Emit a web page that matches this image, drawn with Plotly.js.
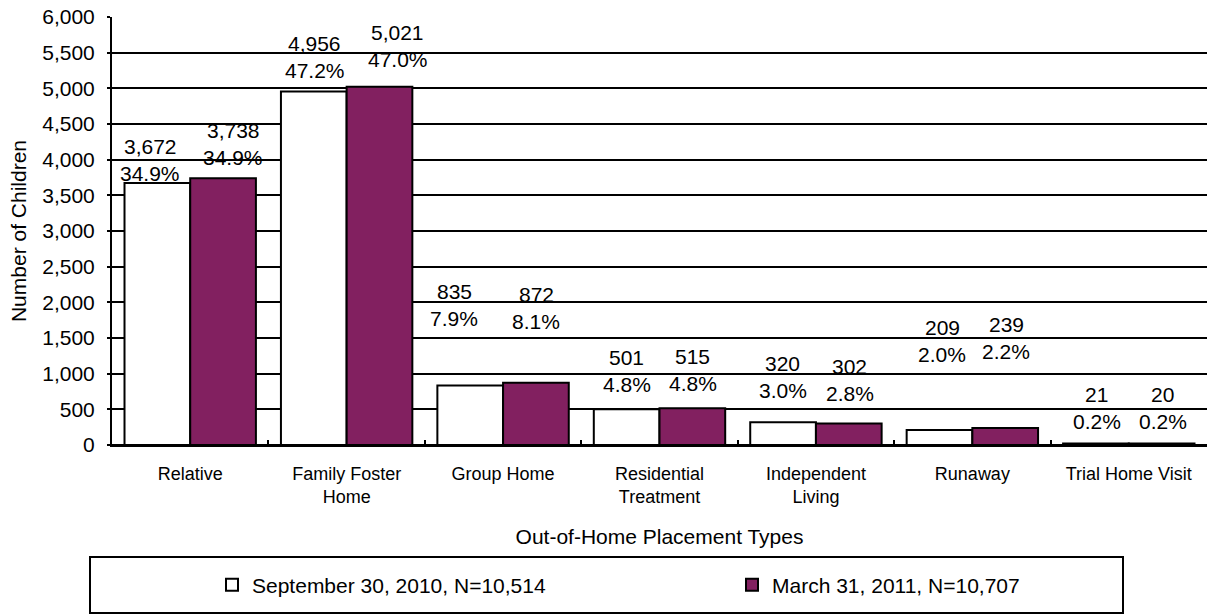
<!DOCTYPE html>
<html>
<head>
<meta charset="utf-8">
<script src="https://cdn.plot.ly/plotly-3.0.1.min.js"></script>
<style>
html,body{margin:0;padding:0;background:#fff;}
#chart{width:1207px;height:614px;}
</style>
</head>
<body>
<div id="chart"></div>
<script>
// ---- data ----
var categories = ["Relative", "Family Foster<br>Home", "Group Home", "Residential<br>Treatment", "Independent<br>Living", "Runaway", "Trial Home Visit"];
var sep2010 = [3672, 4956, 835, 501, 320, 209, 21];
var mar2011 = [3738, 5021, 872, 515, 302, 239, 20];
var sep2010Pct = ["34.9%", "47.2%", "7.9%", "4.8%", "3.0%", "2.0%", "0.2%"];
var mar2011Pct = ["34.9%", "47.0%", "8.1%", "4.8%", "2.8%", "2.2%", "0.2%"];
var seriesNames = ["September 30, 2010, N=10,514", "March 31, 2011, N=10,707"];
var yTickVals = [0, 500, 1000, 1500, 2000, 2500, 3000, 3500, 4000, 4500, 5000, 5500, 6000];

// ---- label placement (pixels, relative to bar top) ----
var sepLabelLift = [23, 34, 80, 38, 45, 89, 36];
var marLabelLift = [34, 41, 75, 38, 43, 90, 36];
var sepLabelNudge = [-7, 1, -16, 0, 0, 3, 1];
var marLabelNudge = [10, 18, 0, 0, 1, 1, 1];

var FONT = "Liberation Sans, Arial, sans-serif";
var PURPLE = "#822060";

function fmt(v){ return v.toLocaleString("en-US"); }

var traces = [
  {type:"bar", name:seriesNames[0], x:categories, y:sep2010, legend:"legend",
   marker:{color:"#ffffff", line:{color:"#000", width:2}}, hoverinfo:"none"},
  {type:"bar", name:seriesNames[1], x:categories, y:mar2011, legend:"legend2",
   marker:{color:PURPLE, line:{color:"#000", width:2}}, hoverinfo:"none"}
];

var annotations = [];
var barOffset = 33; // half bar width in px
function addLabels(vals, pcts, lift, nudge, side){
  for (var i=0;i<vals.length;i++){
    var base = {x:categories[i], y:vals[i], xref:"x", yref:"y", showarrow:false,
      font:{family:FONT, size:21, color:"#000"}, xanchor:"center", yanchor:"middle"};
    annotations.push(Object.assign({}, base, {text:fmt(vals[i]), xshift:side*barOffset+nudge[i], yshift:lift[i]+13.5}));
    annotations.push(Object.assign({}, base, {text:pcts[i], xshift:side*barOffset+nudge[i], yshift:lift[i]-13.5}));
  }
}
addLabels(sep2010, sep2010Pct, sepLabelLift, sepLabelNudge, -1);
addLabels(mar2011, mar2011Pct, marLabelLift, marLabelNudge, 1);

var legendCommon = {orientation:"h", y:(445-585)/428, yanchor:"middle", xanchor:"left",
  font:{family:FONT, size:21, color:"#000"}, bgcolor:"rgba(0,0,0,0)", borderwidth:0, itemwidth:30};

var layout = {
  width:1207, height:614,
  margin:{l:112, r:0, t:17, b:169},
  paper_bgcolor:"#fff", plot_bgcolor:"#fff",
  font:{family:FONT, size:18, color:"#000"},
  barmode:"group", bargap:0.16, bargroupgap:0,
  showlegend:true,
  legend:Object.assign({}, legendCommon, {x:(212-112)/1095}),
  legend2:Object.assign({}, legendCommon, {x:(732-112)/1095}),
  xaxis:{type:"category", showgrid:false, showline:true, linecolor:"#000", linewidth:2,
    ticks:"inside", tickson:"boundaries", ticklen:5, tickwidth:2, tickcolor:"#000",
    ticklabelstandoff:11,
    tickfont:{family:FONT, size:18, color:"#000"},
    title:{text:"Out-of-Home Placement Types", font:{family:FONT, size:21, color:"#000"}, standoff:23},
    automargin:false, fixedrange:true},
  yaxis:{range:[0,6000], tickvals:yTickVals, tickformat:",d", showgrid:true, gridcolor:"#000", gridwidth:2,
    zeroline:true, zerolinecolor:"#000", zerolinewidth:2,
    showline:true, linecolor:"#000", linewidth:2, ticks:"outside", ticklen:3, tickcolor:"#000", tickwidth:2,
    ticklabelstandoff:8,
    tickfont:{family:FONT, size:21, color:"#000"},
    title:{text:"Number of Children", font:{family:FONT, size:21, color:"#000"}, standoff:10},
    automargin:false, fixedrange:true},
  shapes:[
    {type:"rect", xref:"paper", yref:"paper", x0:(90-112)/1095, x1:(1123-112)/1095,
     y0:(445-613)/428, y1:(445-557)/428, line:{color:"#000", width:2}, fillcolor:"rgba(0,0,0,0)", layer:"below"}
  ],
  annotations:annotations
};

Plotly.newPlot("chart", traces, layout, {displayModeBar:false, staticPlot:true});
</script>
</body>
</html>
